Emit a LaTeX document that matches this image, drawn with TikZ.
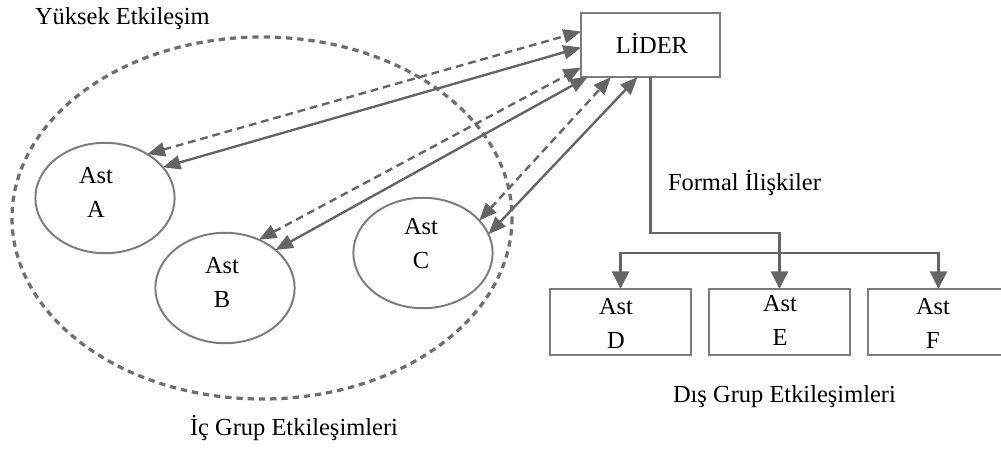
\documentclass[tikz,border=0pt]{standalone}
\usepackage{fontspec}
\setmainfont{Liberation Serif}
\usetikzlibrary{arrows.meta,shapes.geometric,calc}
\definecolor{lnc}{HTML}{656565}
\definecolor{bdc}{HTML}{7C7C7C}
\definecolor{dsc}{HTML}{6E6E6E}
\begin{document}
\begin{tikzpicture}[x=0.025cm,y=-0.025cm,
  every node/.style={font=\fontsize{17.4}{24.2}\selectfont},
  txt/.style={inner sep=0pt,outer sep=0pt,align=center},
  astell/.style={draw=bdc,line width=1.4pt,ellipse,minimum width=3.48cm,minimum height=2.76cm,inner sep=0pt,outer sep=0pt},
  box/.style={draw=bdc,line width=2pt,rectangle,inner sep=0pt,outer sep=0pt},
  bitip/.style={{Triangle[length=12.5pt,width=10pt]}-{Triangle[length=12.5pt,width=10pt]}},
  solidarr/.style={draw=lnc,line width=1.7pt,bitip},
  dasharr/.style={draw=lnc,line width=1.7pt,dash pattern=on 5.5pt off 3.5pt,bitip},
  formal/.style={draw=lnc,line width=1.9pt},
  fend/.style={-{Triangle[length=12.5pt,width=12pt]}},
  fboth/.style={{Triangle[length=12.5pt,width=12pt]}-{Triangle[length=12.5pt,width=12pt]}}]
\useasboundingbox (0,0) rectangle (1001,450);
% big dashed ellipse (in-group)
\draw[dsc,line width=2.3pt,dash pattern=on 4.5pt off 3.5pt] (262,218) ellipse [x radius=250,y radius=181];
% texts
\node[txt,anchor=base west] (yuksek) at (35,24) {Yüksek Etkileşim};
\node[txt,anchor=base west] (icgrup) at (190,435) {İç Grup Etkileşimleri};
\node[txt,anchor=base west] (disgrup) at (673,402) {Dış Grup Etkileşimleri};
\node[txt,anchor=base west] (formaltxt) at (668,190) {Formal İlişkiler};
% leader
\node[box,minimum width=3.475cm,minimum height=1.6cm] (L) at (650.5,45) {};
\node[txt,anchor=base] (Ltxt) at (652,53) {LİDER};
% ast ellipses
\node[astell] (A) at (105,198) {};
\node[astell] (B) at (225,288) {};
\node[astell] (C) at (423,253) {};
\node[txt] (Atxt) at (96,192) {Ast\\A};
\node[txt] (Btxt) at (222,282.5) {Ast\\B};
\node[txt] (Ctxt) at (421,244) {Ast\\C};
% out-group boxes
\node[box,minimum width=3.525cm,minimum height=1.65cm] (D) at (620.5,322) {};
\node[box,minimum width=3.525cm,minimum height=1.65cm] (E) at (779.5,322) {};
\node[box,minimum width=3.525cm,minimum height=1.65cm] (F) at (938.5,322) {};
\node[txt] (Dtxt) at (616,323.5) {Ast\\D};
\node[txt] (Etxt) at (780,320.5) {Ast\\E};
\node[txt] (Ftxt) at (933,323.5) {Ast\\F};
% leader <-> in-group
\draw[dasharr] (A.46) -- (L.169.4);
\draw[solidarr] (A.28) -- (L.182.5);
\draw[dasharr] (B.55) -- (L.198.3);
\draw[solidarr] (B.37.6) -- (L.207.9);
\draw[dasharr] (C.30.7) -- (L.219.7);
\draw[solidarr] (C.16) -- (L.248.7);
% formal relations
\coordinate (j1) at (779.5,233);
\draw[formal,fend] (L.south) |- (j1) -- (E.north);
\draw[formal,fboth] (D.north) -- ++(0,-36) -| (F.north);
\end{tikzpicture}
\end{document}
